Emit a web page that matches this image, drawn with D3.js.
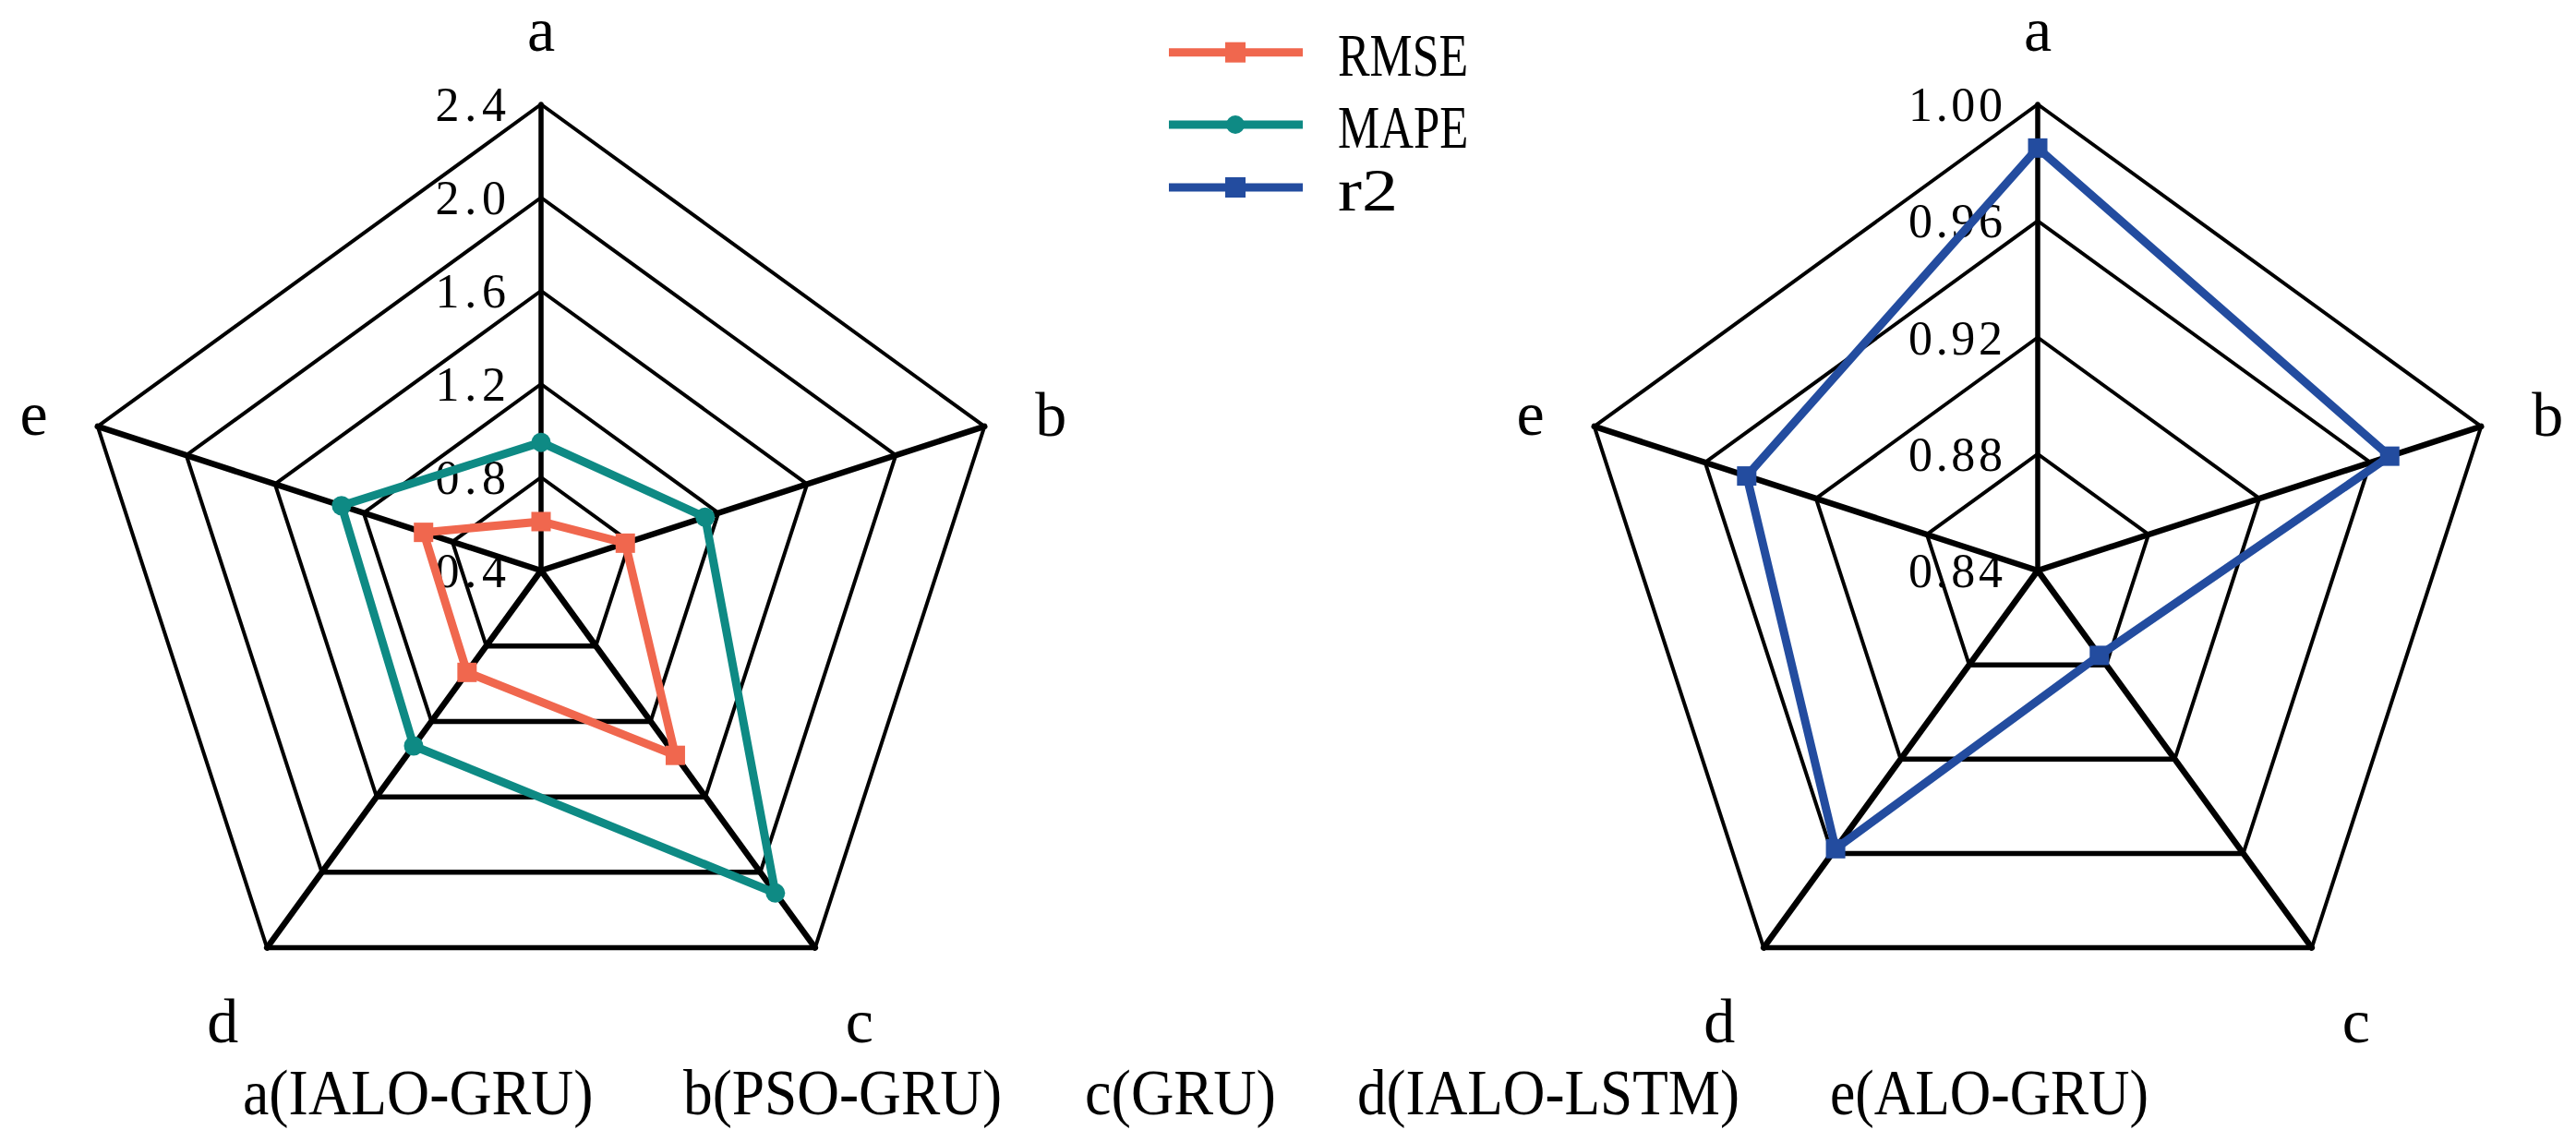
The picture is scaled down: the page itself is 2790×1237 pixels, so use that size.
<!DOCTYPE html>
<html><head><meta charset="utf-8">
<script src="https://cdn.jsdelivr.net/npm/d3@7"></script>
<style>html,body{margin:0;padding:0;background:#fff;overflow:hidden}</style>
</head><body>
<svg id="chart" width="2790" height="1237"></svg>
<script>
// ---- data ----
const categories = ['a', 'b', 'c', 'd', 'e'];
const modelLabels = ['a(IALO-GRU)', 'b(PSO-GRU)', 'c(GRU)', 'd(IALO-LSTM)', 'e(ALO-GRU)'];
const rmseValues = [0.61, 0.78, 1.38, 0.94, 0.93];
const mapeValues = [0.95, 1.14, 2.11, 1.33, 1.30];
const r2Values = [0.985, 0.967, 0.876, 0.958, 0.945];
const leftTicks = [0.4, 0.8, 1.2, 1.6, 2.0, 2.4];
const leftTickLabels = ['0.4', '0.8', '1.2', '1.6', '2.0', '2.4'];
const rightTicks = [0.84, 0.88, 0.92, 0.96, 1.00];
const rightTickLabels = ['0.84', '0.88', '0.92', '0.96', '1.00'];
const seriesNames = ['RMSE', 'MAPE', 'r2'];

// ---- styles / layout ----
const colors = {RMSE: '#F0674E', MAPE: '#0E8A84', r2: '#234C9F'};
const markers = {RMSE: 'square', MAPE: 'circle', r2: 'square'};
const FONT = '"Liberation Serif", "Times New Roman", serif';
const R = 505;
const svg = d3.select('#chart');

function drawRadar(cx, cy, ticks, tickLabels, series) {
  const g = svg.append('g').attr('transform', `translate(${cx},${cy})`);
  const rScale = d3.scaleLinear().domain([ticks[0], ticks[ticks.length - 1]]).range([0, R]);
  const aScale = d3.scaleLinear().domain([0, categories.length]).range([0, 2 * Math.PI]);
  const pt = (i, v) => [rScale(v) * Math.sin(aScale(i)), -rScale(v) * Math.cos(aScale(i))];

  // tick labels (under grid)
  const tickFs = 52, tickCharW = 25.5;
  ticks.forEach((t, k) => {
    const lab = tickLabels[k];
    const len = lab.length * tickCharW;
    const [x, y] = pt(0, t);
    g.append('text').attr('x', x - 38 - len).attr('y', y + 18)
      .attr('textLength', len).attr('lengthAdjust', 'spacing')
      .style('font-family', FONT).style('font-size', tickFs + 'px').attr('fill', '#000')
      .text(lab);
  });

  // ring edges
  ticks.slice(1).forEach(t => {
    categories.forEach((c, i) => {
      const j = (i + 1) % categories.length;
      const [x1, y1] = pt(i, t), [x2, y2] = pt(j, t);
      g.append('line').attr('x1', x1).attr('y1', y1).attr('x2', x2).attr('y2', y2)
        .attr('stroke', '#000').attr('stroke-width', i === 2 ? 5.5 : 4).attr('stroke-linecap', 'round');
    });
  });
  // axes
  categories.forEach((c, i) => {
    const [x, y] = pt(i, ticks[ticks.length - 1]);
    g.append('line').attr('x1', 0).attr('y1', 0).attr('x2', x).attr('y2', y)
      .attr('stroke', '#000').attr('stroke-width', i === 0 ? 5.5 : 6.5).attr('stroke-linecap', 'round');
  });

  // category labels
  const labOff = [[0, -58, 'middle'], [55, 10, 'start'], [48, 102, 'middle'], [-48, 102, 'middle'], [-54, 9, 'end']];
  categories.forEach((c, i) => {
    const [x, y] = pt(i, ticks[ticks.length - 1]);
    g.append('text').attr('x', x + labOff[i][0]).attr('y', y + labOff[i][1])
      .attr('text-anchor', labOff[i][2])
      .style('font-family', FONT).style('font-size', '68px').attr('fill', '#000').text(c);
  });

  // series
  const line = d3.lineRadial().angle((d, i) => aScale(i)).radius(d => rScale(d)).curve(d3.curveLinearClosed);
  series.forEach(s => {
    g.append('path').attr('d', line(s.values)).attr('fill', 'none')
      .attr('stroke', colors[s.name]).attr('stroke-width', 9).attr('stroke-linejoin', 'round');
  });
  series.forEach(s => {
    s.values.forEach((v, i) => {
      const [x, y] = pt(i, v);
      if (markers[s.name] === 'circle') {
        g.append('circle').attr('cx', x).attr('cy', y).attr('r', 10.5).attr('fill', colors[s.name]);
      } else {
        g.append('rect').attr('x', x - 10.5).attr('y', y - 10.5).attr('width', 21).attr('height', 21).attr('fill', colors[s.name]);
      }
    });
  });
}

drawRadar(586, 618, leftTicks, leftTickLabels, [
  {name: 'RMSE', values: rmseValues},
  {name: 'MAPE', values: mapeValues}
]);
drawRadar(2207, 618, rightTicks, rightTickLabels, [
  {name: 'r2', values: r2Values}
]);

// legend
const legendY = [56.7, 135, 203];
const lg = svg.append('g');
seriesNames.forEach((n, k) => {
  const y = legendY[k];
  lg.append('line').attr('x1', 1266).attr('x2', 1411).attr('y1', y).attr('y2', y)
    .attr('stroke', colors[n]).attr('stroke-width', 9);
  if (markers[n] === 'circle') {
    lg.append('circle').attr('cx', 1338).attr('cy', y).attr('r', 10).attr('fill', colors[n]);
  } else {
    lg.append('rect').attr('x', 1327).attr('y', y - 11).attr('width', 22).attr('height', 22).attr('fill', colors[n]);
  }
  lg.append('text').attr('x', 1449).attr('y', y + 25)
    .attr('textLength', n.length * (n.length > 2 ? 35.3 : 32.5)).attr('lengthAdjust', 'spacingAndGlyphs')
    .style('font-family', FONT).style('font-size', '66px').attr('fill', '#000').text(n);
});

// caption
const captionX = [263, 740, 1175, 1470, 1982];
modelLabels.forEach((t, k) => {
  svg.append('text').attr('x', captionX[k]).attr('y', 1207)
    .attr('textLength', t.length * 34.5).attr('lengthAdjust', 'spacingAndGlyphs')
    .style('font-family', FONT).style('font-size', '70px').attr('fill', '#000').text(t);
});
</script>
</body></html>
